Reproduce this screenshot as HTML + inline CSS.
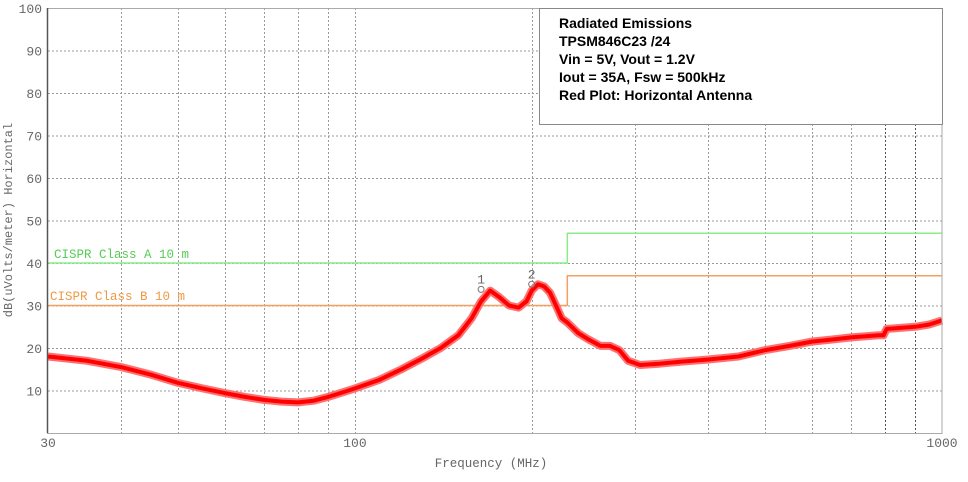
<!DOCTYPE html>
<html><head><meta charset="utf-8"><style>
body{margin:0;background:#fff;width:968px;height:477px;overflow:hidden}
svg text{font-family:"Liberation Mono",monospace;fill:#666}
</style></head><body>
<svg id="chart" width="968" height="477" xmlns="http://www.w3.org/2000/svg">
<g id="grid"></g>
<g id="limits"></g>
<g id="trace"></g>
<g id="axes"></g>
<g>
<rect x="539.5" y="8.5" width="403" height="116" fill="#fff" stroke="#888"/>
<g style="font-family:'Liberation Sans',sans-serif;font-weight:bold;font-size:14px">
<text x="559" y="28" style="font-family:'Liberation Sans',sans-serif;fill:#000">Radiated Emissions</text>
<text x="559" y="46" style="font-family:'Liberation Sans',sans-serif;fill:#000">TPSM846C23 /24</text>
<text x="559" y="64" style="font-family:'Liberation Sans',sans-serif;fill:#000">Vin = 5V, Vout = 1.2V</text>
<text x="559" y="82" style="font-family:'Liberation Sans',sans-serif;fill:#000">Iout = 35A, Fsw = 500kHz</text>
<text x="559" y="100" style="font-family:'Liberation Sans',sans-serif;fill:#000">Red Plot: Horizontal Antenna</text>
</g></g>
<text x="54" y="258" font-size="12.5" style="fill:#5c5">CISPR Class A 10 m</text>
<text x="50" y="300" font-size="12.5" style="fill:#e94">CISPR Class B 10 m</text>
<text x="491" y="467" font-size="12.5" text-anchor="middle">Frequency (MHz)</text>
<text transform="translate(12,220) rotate(-90)" font-size="12" text-anchor="middle">dB(uVolts/meter) Horizontal</text>
</svg>
<script>
const yTicks=[10,20,30,40,50,60,70,80,90,100];
const xGrid=[40,50,60,70,80,90,100,200,300,400,500,600,700,800,900];
const xTickLabels=[30,100,1000];
const freqs=[30,35,40,45,50,55,60,65,70,75,80,85,90,95,100,110,120,130,140,150,158,164,170,176,183,190,196,200,205,210,215,220,225,230,240,250,262,272,282,292,306,330,360,400,450,500,550,600,650,700,780,795,805,900,950,1000];
const levels=[18,17,15.5,13.7,11.8,10.5,9.4,8.5,7.8,7.4,7.2,7.6,8.5,9.5,10.5,12.5,15,17.5,20,23,27,31,33.5,32,30,29.5,31,33.5,35,34.5,33,30,27,26,23.5,22,20.5,20.5,19.5,17,16,16.3,16.8,17.3,18,19.5,20.5,21.5,22,22.5,23,23,24.5,25,25.5,26.5];
const limitAFreq=[30,230,230,1000], limitAVal=[40,40,47,47];
const limitBFreq=[30,230,230,1000], limitBVal=[30,30,37,37];
const markerFreq=[164,200], markerVal=[33.8,35], markerLabel=["1","2"];
const X0=48,X1=942,Y0=433,SC=4.25;
const xs=f=>X0+Math.log10(f/30)/Math.log10(1000/30)*(X1-X0);
const ys=v=>Y0-v*SC;
const NS="http://www.w3.org/2000/svg";
function mk(tag,attrs,parent){const e=document.createElementNS(NS,tag);for(const k in attrs)e.setAttribute(k,attrs[k]);document.getElementById(parent).appendChild(e);return e;}
yTicks.forEach(v=>{
 if(v<100){const l=mk('line',{x1:X0,x2:X1,y1:ys(v)+.5,y2:ys(v)+.5,stroke:'#999','stroke-dasharray':'2,2'},'grid');
 
 }
 const t=mk('text',{x:X0-6,y:ys(v)+5,'font-size':13,'text-anchor':'end'},'axes');t.textContent=v;
 
 
});
xGrid.forEach(f=>{const l=mk('line',{x1:Math.round(xs(f))+.5,x2:Math.round(xs(f))+.5,y1:8,y2:Y0,stroke:(f>=800?'#555':'#999'),'stroke-dasharray':'2,2'},'grid');
 
 });
xTickLabels.forEach(f=>{const t=mk('text',{x:xs(f),y:Y0+14,'font-size':13,'text-anchor':'middle'},'axes');t.textContent=f;
 
 });
const fr=mk('rect',{x:X0-.5,y:8.5,width:X1-X0+.5,height:Y0-8,fill:'none',stroke:'#aaa'},'axes');


const la=mk('line',{x1:X0-.5,x2:X0-.5,y1:8,y2:Y0,stroke:'#555','stroke-width':1.5},'axes');


function poly(fa,va,color,name,w){const p=mk('polyline',{points:fa.map((f,i)=>xs(f).toFixed(1)+','+ys(va[i]).toFixed(1)).join(' '),fill:'none',stroke:color,'stroke-width':w,'stroke-linejoin':'round'},name==='trace'?'trace':'limits');return p;}
const a=poly(limitAFreq,limitAVal,'#8e8','limits',1.5);


const b=poly(limitBFreq,limitBVal,'#f4a060','limits',1.5);


const h=poly(freqs,levels,'#ff7070','trace',8);


const t=poly(freqs,levels,'#f00','trace',4);


markerFreq.forEach((f,i)=>{const c=mk('circle',{cx:xs(f),cy:ys(markerVal[i]),r:3,fill:'none',stroke:'#777'},'trace');
 
 
 const l=mk('text',{x:xs(f),y:ys(markerVal[i])-6,'font-size':13,'text-anchor':'middle'},'trace');l.textContent=markerLabel[i];
 
 });
</script>
</body></html>
